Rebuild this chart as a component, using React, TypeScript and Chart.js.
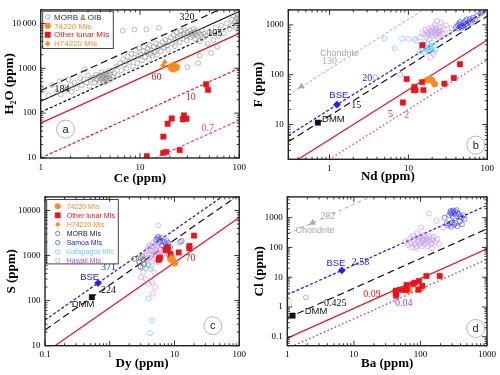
import React, { useEffect, useRef } from 'react';
import { Chart, registerables } from 'chart.js';
Chart.register(...registerables);

type Pt = [number, number];

// ---------------- Panel a : H2O vs Ce ----------------
const aXRange = [1, 100];
const aYRange = [10, 20000];
const aRatios = [320, 184, 105, 60, 10, 0.7];
const aMorbOib: Pt[] = [
  [1.05, 330], [1.2, 250], [1.3, 420], [1.45, 300], [1.55, 520], [1.6, 260], [1.7, 380], [1.8, 330], [1.9, 560], [2.0, 420],
  [2.05, 300], [2.2, 480], [2.3, 360], [2.5, 600], [2.6, 420], [2.7, 560], [2.8, 950], [2.9, 480], [3.0, 700], [3.1, 400], [3.2, 560],
  [3.4, 620], [3.5, 480], [3.6, 720], [3.7, 560], [3.8, 650], [3.9, 500], [4.0, 700], [4.0, 580], [4.1, 820], [4.2, 640], [4.2, 520],
  [4.3, 700], [4.3, 600], [4.4, 760], [4.4, 480], [4.5, 650], [4.5, 560], [4.6, 720], [4.6, 600], [4.7, 520], [4.8, 680], [4.8, 860],
  [4.9, 600], [5.0, 740], [5.1, 560], [5.2, 900], [5.3, 650], [5.5, 780],
  [5.8, 1100], [6.0, 700], [6.3, 1300], [6.5, 900], [6.7, 6900], [6.8, 1600], [7.0, 1200], [7.3, 1000], [7.5, 1800], [7.8, 1400],
  [8.2, 2100], [8.5, 1100], [8.8, 7300], [8.8, 1700], [9.0, 2500], [9.4, 1300], [9.6, 1900], [9.8, 2800],
  [10.2, 2000], [10.5, 1500], [10.8, 2400], [11.0, 3000], [11.3, 1800], [11.6, 7300], [11.7, 2200], [12.0, 2700], [12.3, 1600],
  [12.5, 3300], [12.8, 2100], [13.0, 2500], [13.4, 1900], [13.8, 3000], [14.0, 2300], [14.5, 3600], [14.8, 2000], [15.2, 2800],
  [15.5, 8000], [15.8, 3300], [16.2, 2400], [16.8, 3800], [17.5, 2900], [18.0, 4300], [18.6, 3200], [19.2, 2600], [19.8, 4000],
  [20.5, 4800], [21, 3500], [21.8, 5500], [22.5, 3100], [23, 4300], [23.5, 6200], [24, 5000], [25, 3800], [25.5, 5600], [26, 6800],
  [27, 4600], [27.5, 5800], [28, 7200], [29, 5200], [29.5, 4200], [30, 6400], [30, 1060], [31, 5600], [32, 7000], [32.5, 4900],
  [33, 6000], [34, 5300], [34.5, 7500], [35, 6300], [36, 4600], [36.5, 5800], [37, 6800], [38, 5200], [38.6, 1300], [39, 6200],
  [40, 4000], [40, 1900], [41, 5600], [42, 7000], [43, 4700], [44, 6000], [46, 5300], [48, 3500], [50, 6500],
  [52, 2200], [55, 4200], [58, 8000], [60, 3000], [62, 5200], [66, 9000], [70, 6000], [75, 10000], [80, 7500], [84, 12000],
  [86, 9000], [88, 15000], [90, 11000], [92, 8000], [94, 13000], [95, 10000], [96, 16000], [97, 7200], [98, 12000], [99, 9500],
  [99, 14000], [100, 11000],
];
const a74220: Pt[] = [[20.5, 1050], [21, 1000], [21.3, 1120], [21.8, 1060], [22.3, 1000], [22.8, 1080], [23.3, 1050], [21.5, 960]];
const aH74220: Pt[] = [[17, 1150], [17.8, 1380]];
const aLunar: Pt[] = [
  [11.7, 11], [17.1, 13], [18.4, 13.7], [25.1, 15], [17.2, 30], [19, 58], [20.9, 76], [27.7, 89], [27, 73], [29.4, 75],
  [46.4, 440], [48.5, 330],
];

// ---------------- Panel b : F vs Nd ----------------
const bXRange = [0.3, 100];
const bYRange = [2, 2000];
const bRatios = [130, 20, 15, 5, 2];
const bSamoa: Pt[] = [
  [40, 900], [42, 980], [43, 850], [44, 1050], [45, 920], [46, 1000], [47, 880], [48, 950], [50, 1100], [50, 930], [52, 1000],
  [53, 1200], [55, 1050], [56, 950], [58, 1150], [60, 1300], [62, 1100], [64, 1250], [66, 1400], [70, 1300], [75, 1550],
  [82, 1700], [88, 1850], [45, 1150], [55, 1300],
];
const bGalapagos: Pt[] = [
  [5, 530], [6.7, 340], [8.3, 530], [12, 520], [14, 300], [15, 330], [15.5, 400], [16, 280], [16.5, 360], [17, 310], [17.5, 420],
  [18, 350], [18.5, 300], [19, 380], [19.5, 330], [20, 440], [21, 370], [22, 320], [20.5, 290],
];
const bHawaii: Pt[] = [
  [10, 520], [12.5, 480], [14, 560], [15, 700], [16, 640], [16.5, 800], [17, 580], [17.5, 720], [18, 850], [18, 640], [18.5, 520],
  [19, 760], [19.5, 680], [20, 900], [20, 600], [20.5, 800], [21, 700], [21.5, 1000], [22, 620], [22, 760], [22.5, 860], [23, 680],
  [23.5, 560], [24, 780], [24.5, 700], [25, 900], [25, 620], [26, 760], [27, 660], [28, 820], [30, 980], [33, 700], [35, 850],
  [19, 220], [21, 260], [18.5, 300], [16, 450], [26, 1100], [23, 1200],
];
const bMorb: Pt[] = [[3.8, 89], [7.9, 100]];
const bLunar: Pt[] = [
  [8.5, 27.6], [9.5, 82], [11.7, 49], [11.9, 57], [12.3, 49], [14.9, 71], [15.5, 49], [15, 390], [28.6, 66], [37.6, 86], [45, 162],
];
const b74220: Pt[] = [[17.5, 78], [18.8, 80], [19.8, 77], [21.5, 65]];
const bBSE: Pt[] = [[1.24, 25]];
const bDMM: Pt[] = [[0.71, 10.9]];
const bChondrite: Pt[] = [[0.44, 58]];

// ---------------- Panel c : S vs Dy ----------------
const cXRange = [0.1, 100];
const cYRange = [10, 20000];
const cRatios = [371, 224, 70];
const cHawaii: Pt[] = [
  [3.3, 420], [3.5, 700], [3.6, 1000], [3.7, 1300], [3.8, 850], [3.9, 1500], [4.0, 600], [4.0, 1100], [4.1, 1700], [4.2, 900],
  [4.3, 1300], [4.4, 750], [4.4, 1600], [4.5, 1050], [4.6, 1900], [4.7, 1250], [4.8, 850], [4.8, 1500], [4.9, 1100], [5.0, 1750],
  [5.1, 950], [5.2, 1350], [5.3, 700], [5.4, 1600], [5.5, 1150], [5.6, 1900], [5.7, 1000], [5.9, 1400], [6.1, 1200], [6.3, 1650],
  [6.5, 1050], [6.8, 1300], [5.6, 4700], [3.0, 330], [3.6, 300], [4.0, 235], [4.6, 143], [4.9, 420], [4.5, 260], [5.0, 200],
  [3.2, 560], [4.2, 500],
];
const cGalapagos: Pt[] = [[3.6, 530], [4.0, 112], [4.5, 36], [4.2, 19], [3.9, 650], [4.4, 560]];
const cMorb: Pt[] = [[2.4, 850], [2.85, 720], [3.0, 880], [3.2, 950], [3.0, 560], [3.3, 800], [3.4, 640]];
const cSamoa: Pt[] = [
  [5.2, 2250], [5.46, 2430], [5.8, 2300], [6.0, 2050], [5.6, 2600], [6.9, 2000], [7.3, 1850], [8.0, 1900], [6.5, 1700], [8.5, 1550],
  [12.2, 2000], [12.9, 2100], [8.2, 1030], [7.6, 2100], [6.2, 2450],
];
const cLunar: Pt[] = [
  [5.7, 800], [5.8, 850], [6.0, 900], [7.3, 1320], [7.95, 1370], [7.8, 1500], [8.7, 1070], [11.6, 1170], [17, 1630], [17, 1440], [20, 2760],
];
const c74220: Pt[] = [[8.6, 860], [9.0, 900], [9.2, 800], [9.6, 750], [10.1, 680]];
const cH74220: Pt[] = [[8.9, 930]];
const cBSE: Pt[] = [[0.66, 245]];
const cDMM: Pt[] = [[0.53, 119]];

// ---------------- Panel d : Cl vs Ba ----------------
const dXRange = [1, 1000];
const dYRange = [0.05, 5000];
const dRatios = [282, 2.58, 0.425, 0.09, 0.04];
const dHawaii: Pt[] = [
  [60, 160], [65, 120], [70, 200], [72, 140], [75, 100], [78, 250], [80, 170], [82, 130], [85, 210], [88, 110], [90, 300], [92, 160],
  [95, 190], [98, 130], [100, 240], [103, 150], [105, 110], [108, 200], [110, 170], [112, 260], [115, 130], [118, 180], [120, 220],
  [125, 150], [128, 110], [130, 190], [135, 240], [140, 160], [145, 130], [150, 200], [155, 170], [160, 230], [170, 150], [180, 190],
  [190, 130], [135, 1380], [103, 470], [174, 780], [218, 470], [86, 95], [150, 95],
];
const dSamoa: Pt[] = [
  [270, 1200], [280, 1500], [285, 1700], [290, 1350], [300, 1550], [305, 1100], [310, 1750], [320, 1400], [330, 1600], [340, 1250],
  [350, 1800], [360, 1450], [380, 1300], [400, 1100], [420, 1000], [440, 1200], [460, 900], [260, 550], [275, 620], [290, 500],
  [300, 700], [320, 580], [340, 650], [360, 520], [390, 740], [420, 600], [250, 650], [230, 1000],
];
const dLunar: Pt[] = [
  [42.6, 3.5], [42.6, 2.9], [43, 2.4], [49, 3.8], [62, 5.5], [62, 3.9], [59, 3.7], [77, 5.9], [82, 6.5], [95, 7.5], [93, 3.8],
  [107, 5.1], [123, 11], [195, 11],
];
const d74220: Pt[] = [[67, 3.6], [100, 4.1]];
const dMorb: Pt[] = [[1.9, 2.1]];
const dBSE: Pt[] = [[6.6, 17]];
const dDMM: Pt[] = [[1.2, 0.51]];
const dChondrite: Pt[] = [[2.4, 680]];

// ---------------- styling ----------------
const SERIF = "'Liberation Serif', 'Times New Roman', serif";
const SANS = "'Liberation Sans', Arial, sans-serif";
const ORANGE = '#ff8a1c';
const RED = '#e8141c';
const PINK = '#ff3d8b';
const BLUE = '#2323e6';
const BLUE_PT = 'rgba(50,50,235,0.8)';
const CYAN = '#6ccdf4';
const VIOLET_PT = 'rgba(190,140,235,0.8)';
const VIOLET_LN = '#9b3fe6';
const GREY_PT = 'rgba(140,140,140,0.85)';
const CHOND = '#a8a8a8';
const NONE = 'rgba(0,0,0,0)';

type Ann = { t: string; x: number; y: number; c: string; f: string };
type LegItem = { t: string; c: string; style: string; fill: string | null; stroke: string; r: number };

const xy = (p: Pt[]) => p.map(([x, y]) => ({ x, y }));

function ratioLine(r: number, xr: number[], color: string, dash: number[], width = 1.2) {
  return {
    type: 'line',
    data: xr.map((x) => ({ x, y: r * x })),
    borderColor: color,
    borderWidth: width,
    borderDash: dash,
    pointRadius: 0,
    fill: false,
    tension: 0,
    order: 20,
  };
}

function scatter(p: Pt[], style: string, r: number, fill: string | null, stroke: string, bw = 1, order = 5) {
  return {
    type: 'scatter',
    data: xy(p),
    pointStyle: style,
    pointRadius: r,
    pointBackgroundColor: fill ?? NONE,
    pointBorderColor: stroke,
    pointBorderWidth: bw,
    backgroundColor: fill ?? NONE,
    borderColor: stroke,
    showLine: false,
    order,
  };
}

function logTicks(min: number, max: number) {
  const out: { value: number }[] = [];
  for (let e = Math.floor(Math.log10(min)); e <= Math.ceil(Math.log10(max)); e++) {
    for (let m = 1; m <= 9; m++) {
      const v = parseFloat((m * Math.pow(10, e)).toPrecision(6));
      if (v >= min * 0.9999 && v <= max * 1.0001) out.push({ value: v });
    }
  }
  return out;
}
const isDecade = (v: number) => Math.abs(Math.log10(v) - Math.round(Math.log10(v))) < 1e-6;

function fmtPlain(v: number) {
  return isDecade(v) ? String(parseFloat(v.toPrecision(6))) : '';
}
function fmtSpaced(v: number) {
  if (!isDecade(v)) return '';
  if (v >= 10000) return String(v).replace(/(\d)(\d{3})$/, '$1\u2009$2');
  return String(v);
}

type PanelSpec = {
  id: string;
  left: number; top: number; w: number; h: number;
  xr: number[]; yr: number[];
  yAxisW: number; xAxisH: number; padTop: number; padRight: number;
  xTitle: string; yTitle: string; yTitlePad: number; xTitlePad: number;
  yFmt: (v: number) => string;
  datasets: any[];
  labels: Ann[];
  letter: { t: string; x: number; y: number };
  legend?: { dx: number; dy: number; w: number; h: number; row0: number; dRow: number; mx: number; tx: number; fs: number; items: LegItem[] };
};

const F10 = `10px ${SERIF}`;
const S9 = `9px ${SANS}`;
const S95 = `9.5px ${SANS}`;

const panels: PanelSpec[] = [
  {
    id: 'a', left: 0, top: 0, w: 250, h: 187, xr: aXRange, yr: aYRange,
    yAxisW: 40.7, xAxisH: 29, padTop: 4.7, padRight: 9.3,
    xTitle: 'Ce (ppm)', yTitle: 'H\u2082O (ppm)', yTitlePad: 2.2, xTitlePad: 0.9, yFmt: fmtSpaced,
    datasets: [
      ratioLine(aRatios[0], aXRange, '#111', [7, 4]),
      ratioLine(aRatios[1], aXRange, '#111', []),
      ratioLine(aRatios[2], aXRange, '#111', [3, 2]),
      ratioLine(aRatios[3], aXRange, RED, []),
      ratioLine(aRatios[4], aXRange, RED, [3, 2]),
      ratioLine(aRatios[5], aXRange, PINK, [3, 2]),
      scatter(aMorbOib, 'circle', 2.4, null, GREY_PT, 0.7, 8),
      scatter(aLunar, 'rect', 3.8, RED, RED, 0.5, 2),
      scatter(a74220, 'circle', 3.2, ORANGE, ORANGE, 0.5, 2),
      scatter(aH74220, 'rectRot', 2.6, ORANGE, ORANGE, 0.5, 1),
    ],
    labels: [
      { t: '320', x: 29.7, y: 13300, c: '#111', f: F10 },
      { t: '105', x: 56.6, y: 6030, c: '#111', f: F10 },
      { t: '184', x: 1.64, y: 344, c: '#111', f: F10 },
      { t: '60', x: 14.7, y: 615, c: RED, f: F10 },
      { t: '10', x: 32.4, y: 228, c: RED, f: F10 },
      { t: '0.7', x: 48.2, y: 45, c: PINK, f: F10 },
    ],
    letter: { t: 'a', x: 1.78, y: 44 },
    legend: {
      dx: 2, dy: 1.3, w: 70.6, h: 37.3, row0: 5.7, dRow: 8.9, mx: 5, tx: 11.3, fs: 8,
      items: [
        { t: 'MORB & OIB', c: '#333', style: 'circle', fill: null, stroke: GREY_PT, r: 2.3 },
        { t: '74220 MIs', c: ORANGE, style: 'circle', fill: ORANGE, stroke: ORANGE, r: 3 },
        { t: 'Other lunar MIs', c: RED, style: 'rect', fill: RED, stroke: RED, r: 2.7 },
        { t: 'H74220 MIs', c: ORANGE, style: 'diamond', fill: ORANGE, stroke: ORANGE, r: 2.6 },
      ],
    },
  },
  {
    id: 'b', left: 250, top: 0, w: 250, h: 187, xr: bXRange, yr: bYRange,
    yAxisW: 38.3, xAxisH: 27.7, padTop: 4.7, padRight: 12.7,
    xTitle: 'Nd (ppm)', yTitle: 'F (ppm)', yTitlePad: 1.2, xTitlePad: 2.5, yFmt: fmtPlain,
    datasets: [
      ratioLine(bRatios[0], bXRange, CHOND, [3, 2], 1),
      ratioLine(bRatios[1], bXRange, BLUE, [3, 2], 1.3),
      ratioLine(bRatios[2], bXRange, '#111', [7, 4], 1.2),
      ratioLine(bRatios[3], bXRange, RED, [], 1.2),
      ratioLine(bRatios[4], bXRange, PINK, [1.5, 2.5], 1.4),
      scatter(bHawaii, 'circle', 2.5, null, VIOLET_PT, 0.7, 9),
      scatter(bGalapagos, 'circle', 2.5, null, CYAN, 0.7, 8),
      scatter(bSamoa, 'circle', 2.5, null, BLUE_PT, 0.7, 8),
      scatter(bMorb, 'circle', 2.4, null, GREY_PT, 0.7, 8),
      scatter(bLunar, 'rect', 3.8, RED, RED, 0.5, 2),
      scatter(b74220, 'circle', 3.2, ORANGE, ORANGE, 0.5, 2),
      scatter(bBSE, 'rectRot', 3.6, BLUE, BLUE, 0.5, 1),
      scatter(bDMM, 'rect', 3.8, '#111', '#111', 0.5, 1),
      scatter(bChondrite, 'triangle', 3.4, CHOND, CHOND, 0.5, 1),
    ],
    labels: [
      { t: 'Chondrite', x: 1.34, y: 270, c: CHOND, f: S9 },
      { t: '130', x: 1.0, y: 188, c: CHOND, f: F10 },
      { t: '20', x: 3.0, y: 85, c: BLUE, f: F10 },
      { t: 'BSE', x: 1.31, y: 38.5, c: BLUE, f: S95 },
      { t: '15', x: 2.18, y: 23.9, c: '#111', f: F10 },
      { t: 'DMM', x: 1.12, y: 12.7, c: '#111', f: S95 },
      { t: '5', x: 5.93, y: 15.7, c: RED, f: F10 },
      { t: '2', x: 9.5, y: 15.2, c: PINK, f: F10 },
    ],
    letter: { t: 'b', x: 71.6, y: 3.85 },
  },
  {
    id: 'c', left: 0, top: 187, w: 250, h: 188, xr: cXRange, yr: cYRange,
    yAxisW: 45, xAxisH: 29.3, padTop: 2.7, padRight: 9.3,
    xTitle: 'Dy (ppm)', yTitle: 'S (ppm)', yTitlePad: 3.9, xTitlePad: 3.2, yFmt: fmtPlain,
    datasets: [
      ratioLine(cRatios[0], cXRange, BLUE, [3, 2], 1.3),
      ratioLine(cRatios[1], cXRange, '#111', [7, 4], 1.2),
      ratioLine(cRatios[2], cXRange, RED, [], 1.2),
      scatter(cHawaii, 'circle', 2.5, null, VIOLET_PT, 0.7, 9),
      scatter(cGalapagos, 'circle', 2.5, null, CYAN, 0.7, 8),
      scatter(cMorb, 'circle', 2.5, null, '#666', 0.8, 8),
      scatter(cSamoa, 'circle', 2.5, null, BLUE_PT, 0.7, 8),
      scatter(cLunar, 'rect', 3.8, RED, RED, 0.5, 2),
      scatter(c74220, 'circle', 3.2, ORANGE, ORANGE, 0.5, 2),
      scatter(cH74220, 'rectRot', 2.6, ORANGE, ORANGE, 0.5, 1),
      scatter(cBSE, 'rectRot', 3.6, BLUE, BLUE, 0.5, 1),
      scatter(cDMM, 'rect', 3.8, '#111', '#111', 0.5, 1),
    ],
    labels: [
      { t: '371', x: 0.957, y: 553, c: BLUE, f: F10 },
      { t: 'BSE', x: 0.49, y: 332, c: BLUE, f: S95 },
      { t: '224', x: 0.957, y: 172, c: '#111', f: F10 },
      { t: 'DMM', x: 0.387, y: 83, c: '#111', f: S95 },
      { t: '70', x: 17.7, y: 863, c: RED, f: F10 },
    ],
    letter: { t: 'c', x: 39, y: 27.7 },
    legend: {
      dx: 1.7, dy: 2.6, w: 71.6, h: 64.4, row0: 6.7, dRow: 9.1, mx: 11, tx: 20, fs: 7,
      items: [
        { t: '74220 MIs', c: ORANGE, style: 'circle', fill: ORANGE, stroke: ORANGE, r: 2.8 },
        { t: 'Other lunar MIs', c: RED, style: 'rect', fill: RED, stroke: RED, r: 2.6 },
        { t: 'H74220 MIs', c: ORANGE, style: 'diamond', fill: ORANGE, stroke: ORANGE, r: 2.4 },
        { t: 'MORB MIs', c: '#222', style: 'circle', fill: null, stroke: '#666', r: 2.2 },
        { t: 'Samoa MIs', c: BLUE, style: 'circle', fill: null, stroke: BLUE_PT, r: 2.2 },
        { t: 'Galapagos MIs', c: CYAN, style: 'circle', fill: null, stroke: CYAN, r: 2.2 },
        { t: 'Hawaii MIs', c: '#b050e6', style: 'circle', fill: null, stroke: VIOLET_PT, r: 2.2 },
      ],
    },
  },
  {
    id: 'd', left: 250, top: 187, w: 250, h: 188, xr: dXRange, yr: dYRange,
    yAxisW: 37.3, xAxisH: 29.3, padTop: 2.7, padRight: 12.7,
    xTitle: 'Ba (ppm)', yTitle: 'Cl (ppm)', yTitlePad: 2.2, xTitlePad: 3.2, yFmt: fmtPlain,
    datasets: [
      ratioLine(dRatios[0], dXRange, CHOND, [4, 3], 1),
      ratioLine(dRatios[1], dXRange, BLUE, [3, 2], 1.3),
      ratioLine(dRatios[2], dXRange, '#111', [7, 4], 1.2),
      ratioLine(dRatios[3], dXRange, RED, [], 1.2),
      ratioLine(dRatios[4], dXRange, VIOLET_LN, [1.5, 2.5], 1.4),
      scatter(dHawaii, 'circle', 2.5, null, VIOLET_PT, 0.7, 9),
      scatter(dSamoa, 'circle', 2.5, null, BLUE_PT, 0.7, 8),
      scatter(dMorb, 'circle', 2.4, null, GREY_PT, 0.7, 8),
      scatter(dLunar, 'rect', 3.8, RED, RED, 0.5, 2),
      scatter(d74220, 'circle', 3.2, ORANGE, ORANGE, 0.5, 2),
      scatter(dBSE, 'rectRot', 3.6, BLUE, BLUE, 0.5, 1),
      scatter(dDMM, 'rect', 3.8, '#111', '#111', 0.5, 1),
      scatter(dChondrite, 'triangle', 3.4, CHOND, CHOND, 0.5, 1),
    ],
    labels: [
      { t: '282', x: 4.1, y: 1130, c: CHOND, f: F10 },
      { t: 'Chondrite', x: 2.6, y: 370, c: CHOND, f: S9 },
      { t: '2.58', x: 12.6, y: 31, c: BLUE, f: F10 },
      { t: 'BSE', x: 5.37, y: 28.7, c: BLUE, f: S95 },
      { t: '0.425', x: 5.25, y: 1.32, c: '#111', f: F10 },
      { t: 'DMM', x: 2.7, y: 0.69, c: '#111', f: S95 },
      { t: '0.09', x: 18.8, y: 2.7, c: RED, f: F10 },
      { t: '0.04', x: 56, y: 1.29, c: VIOLET_LN, f: F10 },
      { t: '8', x: 1.1, y: 1.32, c: '#c8c8c8', f: F10 },
    ],
    letter: { t: 'd', x: 676, y: 0.19 },
  },
];

function drawMarker(ctx: CanvasRenderingContext2D, it: LegItem, x: number, y: number) {
  ctx.beginPath();
  const r = it.r;
  if (it.style === 'circle') ctx.arc(x, y, r, 0, Math.PI * 2);
  else if (it.style === 'rect') ctx.rect(x - r, y - r, 2 * r, 2 * r);
  else if (it.style === 'diamond') {
    ctx.moveTo(x, y - r); ctx.lineTo(x + r, y); ctx.lineTo(x, y + r); ctx.lineTo(x - r, y); ctx.closePath();
  }
  if (it.fill) { ctx.fillStyle = it.fill; ctx.fill(); }
  ctx.strokeStyle = it.stroke; ctx.lineWidth = it.fill ? 0.5 : 0.8; ctx.stroke();
}

function Panel({ spec }: { spec: PanelSpec }) {
  const ref = useRef<HTMLCanvasElement>(null);
  useEffect(() => {
    const s = spec;
    const tickFont = { family: SERIF, size: 9 };
    const titleFont = { family: SERIF, size: 13, weight: 'bold' as const };
    const deco = {
      id: 'deco' + s.id,
      afterDatasetsDraw(chart: any) {
        const ctx: CanvasRenderingContext2D = chart.ctx;
        const xs = chart.scales.x, ys = chart.scales.y;
        const ca = chart.chartArea;
        ctx.save();
        ctx.beginPath();
        ctx.rect(ca.left, ca.top, ca.right - ca.left, ca.bottom - ca.top);
        ctx.clip();
        ctx.textAlign = 'center';
        ctx.textBaseline = 'middle';
        for (const a of s.labels) {
          ctx.font = a.f;
          ctx.fillStyle = a.c;
          ctx.fillText(a.t, xs.getPixelForValue(a.x), ys.getPixelForValue(a.y));
        }
        const lx = xs.getPixelForValue(s.letter.x), ly = ys.getPixelForValue(s.letter.y);
        ctx.beginPath();
        ctx.arc(lx, ly, 9, 0, Math.PI * 2);
        ctx.fillStyle = '#fff';
        ctx.fill();
        ctx.strokeStyle = '#b5b5b5';
        ctx.lineWidth = 1;
        ctx.stroke();
        ctx.fillStyle = '#222';
        ctx.font = `11px ${SANS}`;
        ctx.fillText(s.letter.t, lx, ly + 0.5);
        if (s.legend) {
          const L = s.legend;
          const bx = ca.left + L.dx, by = ca.top + L.dy;
          ctx.fillStyle = '#fff';
          ctx.fillRect(bx, by, L.w, L.h);
          ctx.strokeStyle = '#444';
          ctx.lineWidth = 1;
          ctx.strokeRect(bx, by, L.w, L.h);
          ctx.textAlign = 'left';
          L.items.forEach((it, i) => {
            const yy = by + L.row0 + i * L.dRow;
            drawMarker(ctx, it, bx + L.mx, yy);
            ctx.font = `${L.fs}px ${SANS}`;
            ctx.fillStyle = it.c;
            ctx.fillText(it.t, bx + L.tx, yy + 0.5);
          });
        }
        ctx.restore();
      },
      afterDraw(chart: any) {
        const ctx: CanvasRenderingContext2D = chart.ctx;
        const xs = chart.scales.x, ys = chart.scales.y;
        const { left, right, top, bottom } = chart.chartArea;
        ctx.save();
        ctx.strokeStyle = '#222';
        ctx.lineWidth = 0.9;
        ctx.beginPath();
        for (const t of xs.ticks) {
          const p = xs.getPixelForValue(t.value);
          const len = isDecade(t.value) ? 5 : 2.5;
          ctx.moveTo(p, bottom); ctx.lineTo(p, bottom - len);
          ctx.moveTo(p, top); ctx.lineTo(p, top + len);
        }
        for (const t of ys.ticks) {
          const p = ys.getPixelForValue(t.value);
          const len = isDecade(t.value) ? 5 : 2.5;
          ctx.moveTo(left, p); ctx.lineTo(left + len, p);
          ctx.moveTo(right, p); ctx.lineTo(right - len, p);
        }
        ctx.stroke();
        ctx.lineWidth = 1.4;
        ctx.strokeRect(left, top, right - left, bottom - top);
        ctx.restore();
      },
    };
    const chart = new Chart(ref.current as HTMLCanvasElement, {
      type: 'scatter',
      data: { datasets: s.datasets },
      options: {
        responsive: false,
        animation: false,
        devicePixelRatio: 1,
        events: [],
        layout: { padding: { left: 0, top: s.padTop, right: s.padRight, bottom: 0 } },
        plugins: { legend: { display: false }, tooltip: { enabled: false } },
        scales: {
          x: {
            type: 'logarithmic',
            position: 'bottom',
            min: s.xr[0],
            max: s.xr[1],
            grid: { display: false, drawTicks: false },
            border: { display: false },
            ticks: { autoSkip: false, maxRotation: 0, padding: 4, font: tickFont, color: '#000', callback: (v: any) => fmtPlain(Number(v)) },
            title: { display: true, text: s.xTitle, font: titleFont, color: '#000', padding: { top: 0, bottom: s.xTitlePad } },
            afterBuildTicks: (sc: any) => { sc.ticks = logTicks(s.xr[0], s.xr[1]); },
            afterFit: (sc: any) => { sc.height = s.xAxisH; },
          },
          y: {
            type: 'logarithmic',
            position: 'left',
            min: s.yr[0],
            max: s.yr[1],
            grid: { display: false, drawTicks: false },
            border: { display: false },
            ticks: { autoSkip: false, padding: 4.5, font: tickFont, color: '#000', callback: (v: any) => s.yFmt(Number(v)) },
            title: { display: true, text: s.yTitle, font: titleFont, color: '#000', padding: { top: s.yTitlePad, bottom: 0 } },
            afterBuildTicks: (sc: any) => { sc.ticks = logTicks(s.yr[0], s.yr[1]); },
            afterFit: (sc: any) => { sc.width = s.yAxisW; },
          },
        },
      } as any,
      plugins: [deco],
    } as any);
    return () => chart.destroy();
  }, []);
  return (
    <canvas
      ref={ref}
      width={spec.w}
      height={spec.h}
      style={{ position: 'absolute', left: spec.left, top: spec.top, width: spec.w, height: spec.h }}
    />
  );
}

export default function App() {
  return (
    <div style={{ position: 'fixed', left: 0, top: 0, width: 500, height: 375, background: '#fff' }}>
      {panels.map((p) => (
        <Panel key={p.id} spec={p} />
      ))}
    </div>
  );
}
